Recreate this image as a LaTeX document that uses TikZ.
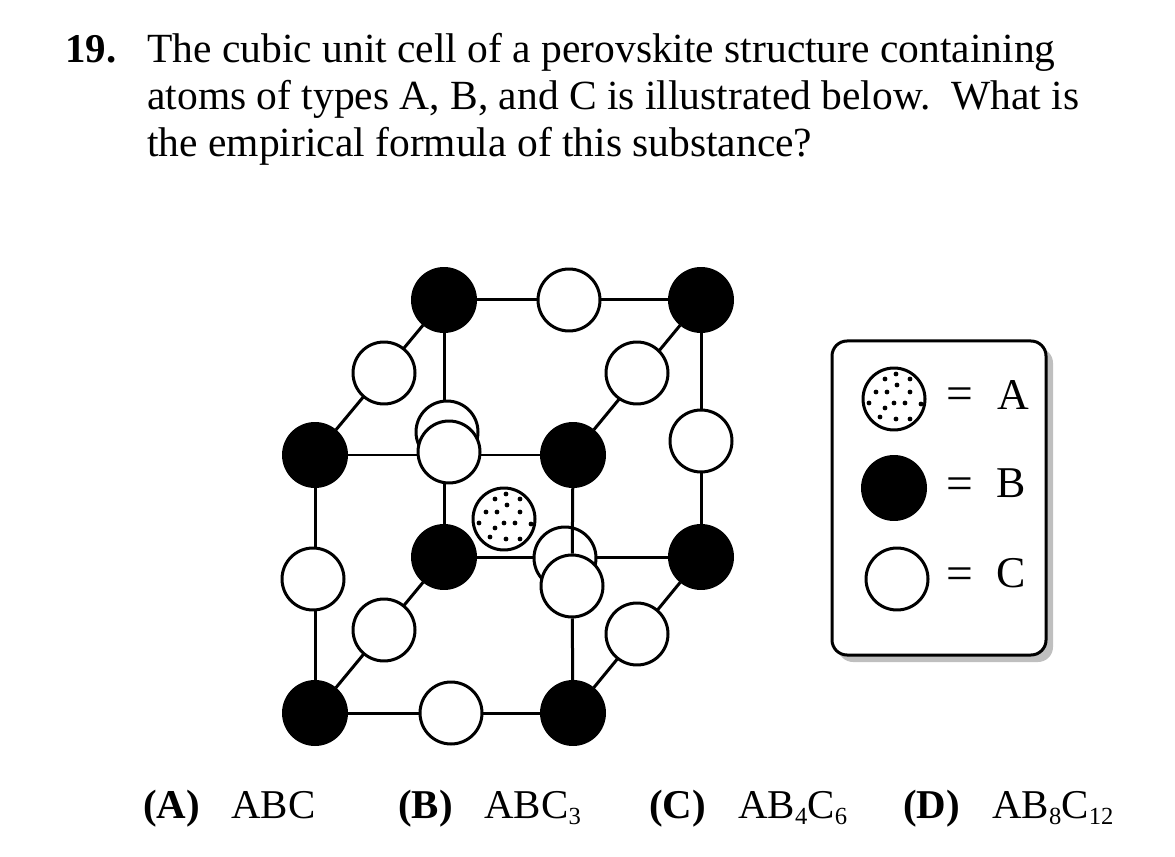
\documentclass[tikz,border=0pt]{standalone}
\usepackage{fontspec}
\setmainfont{Liberation Serif}
\usetikzlibrary{backgrounds}
\tikzset{
  atomB/.style={circle,draw,fill=black,line width=0.06cm,inner sep=0pt,minimum size=1.26cm},
  atomC/.style={circle,draw,fill=white,line width=0.06cm,inner sep=0pt,minimum size=1.24cm},
  bond/.style={line width=0.06cm},
  qtext/.style={inner sep=0pt,anchor=base west,font=\fontsize{23.3}{26.7}\selectfont},
  qline/.style={qtext,font=\fontsize{23.62}{26.7}\selectfont},
  qbold/.style={qtext,font=\fontsize{23.3}{26.7}\selectfont\bfseries},
  legendtext/.style={inner sep=0pt,anchor=base,font=\fontsize{25}{28}\selectfont}
}
\newcommand{\specks}[1]{%
  \foreach \dx/\dy in {-9/-20,2/-25,16/-20,3/-14,-18/-7,-7/-7,16/-7,-25/4,-9/9,0/4,11/4,27/5,-14/18,2/20,16/20}
    \fill (#1) ++(\dx,\dy) circle (0.048cm);%
}
\newcommand{\chemsub}[1]{\raisebox{-3.6pt}{\fontsize{14}{14}\selectfont #1}}
\begin{document}
\begin{tikzpicture}[x=0.02cm, y=-0.02cm]
  \useasboundingbox (0,0) rectangle (1175,857);
  % Question
  \node[qbold] (qnum) at (65,63) {19.};
  \node[qline] (qline1) at (147,63) {The cubic unit cell of a perovskite structure containing};
  \node[qline] (qline2) at (147,110) {atoms of types A, B, and C is illustrated below.\ \ What is};
  \node[qline] (qline3) at (147,157) {the empirical formula of this substance?};
  % Back atoms
  \node[atomC] (cBackL) at (447,432) {};
  \node[atomC] (cBackR) at (565,558) {};
  % Corners
  \node[atomB] (bTL) at (444,300) {};
  \node[atomB] (bTR) at (701,300) {};
  \node[atomB] (bFL) at (315,455) {};
  \node[atomB] (bFR) at (573,455) {};
  \node[atomB] (bML) at (444,557) {};
  \node[atomB] (bMR) at (701,557) {};
  \node[atomB] (bBL) at (315,713) {};
  \node[atomB] (bBR) at (573,713) {};
  % Edge atoms
  \node[atomC] (cTop) at (569,300) {};
  \node[atomC] (cUL) at (384,373) {};
  \node[atomC] (cUR) at (637,373) {};
  \node[atomC] (cFront) at (449,452) {};
  \node[atomC] (cRight) at (701,441) {};
  \node[atomC] (cLeft) at (313,579) {};
  \node[atomC] (cMid) at (572,586) {};
  \node[atomC] (cLL) at (384,630) {};
  \node[atomC] (cLR) at (637,634) {};
  \node[atomC] (cBot) at (451,713) {};
  % Centre atom
  \node[atomC] (aCentre) at (504,519) {};
  \specks{aCentre}
  % Bonds
  \begin{scope}[on background layer]
    \draw[bond] (bTL) -- (bTR);
    \draw[bond] (bTL) -- (bFL);
    \draw[bond] (bTR) -- (bFR);
    \draw[bond] (bTL) -- (bML);
    \draw[bond] (bTR) -- (bMR);
    \draw[bond] (bFL) -- (bFR);
    \draw[bond] (bML) -- (bMR);
    \draw[bond] (bFL) -- (bBL);
    \draw[bond] (bML) -- (bBL);
    \draw[bond] (bMR) -- (bBR);
    \draw[bond] (bBL) -- (bBR);
  \end{scope}
  \draw[bond] (bFR) -- (cMid);
  \draw[bond] (cMid) -- (bBR);
  % Legend
  \coordinate (boxA) at (832,341);
  \coordinate (boxB) at (1046,655);
  \fill[black!25,rounded corners=0.3cm] (838,348) rectangle (1053,662);
  \draw[line width=0.06cm,fill=white,rounded corners=0.3cm] (boxA) rectangle (boxB);
  \node[atomC] (keyA) at (894,399) {};
  \specks{keyA}
  \node[atomB] (keyB) at (894,488) {};
  \node[atomC] (keyC) at (897,579) {};
  \node[legendtext,font=\fontsize{27}{28}\selectfont] (eqA) at (960,410) {=};
  \node[legendtext,font=\fontsize{27}{28}\selectfont] (eqB) at (960,500) {=};
  \node[legendtext,font=\fontsize{27}{28}\selectfont] (eqC) at (960,589) {=};
  \node[legendtext] (lblA) at (1013,410) {A};
  \node[legendtext] (lblB) at (1011,498) {B};
  \node[legendtext] (lblC) at (1011,587) {C};
  % Choices
  \node[qbold] (optA) at (143,818) {(A)};
  \node[qtext] (ansA) at (231,818) {ABC};
  \node[qbold] (optB) at (398,818) {(B)};
  \node[qtext] (ansB) at (484,818) {ABC\chemsub{3}};
  \node[qbold] (optC) at (649,818) {(C)};
  \node[qtext] (ansC) at (738,818) {AB\chemsub{4}C\chemsub{6}};
  \node[qbold] (optD) at (903,818) {(D)};
  \node[qtext] (ansD) at (992,818) {AB\chemsub{8}C\chemsub{12}};
\end{tikzpicture}
\end{document}
